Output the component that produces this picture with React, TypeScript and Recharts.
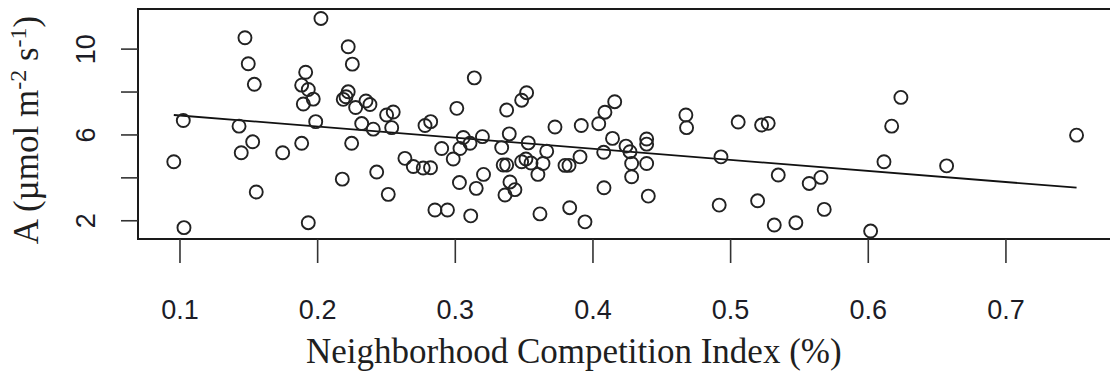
import React from 'react';
import { ScatterChart, Scatter, XAxis, YAxis, ReferenceArea, ReferenceLine, Label } from 'recharts';

// Neighborhood competition index (fraction) for each sampled tree
const ncIndex = [
  0.0955, 0.1024, 0.1029, 0.1429, 0.1445, 0.1472, 0.1496, 0.1528, 0.154, 0.1554,
  0.1746, 0.1884, 0.1913, 0.1884, 0.1932, 0.1968, 0.1896, 0.1932, 0.1986, 0.2024,
  0.2179, 0.2222, 0.2252, 0.2222, 0.2206, 0.2186, 0.2276, 0.2247, 0.232, 0.2351,
  0.238, 0.2404, 0.2429, 0.2501, 0.2549, 0.2538, 0.2513, 0.2634, 0.2695, 0.2767,
  0.282, 0.278, 0.2821, 0.2852, 0.2943, 0.2901, 0.2985, 0.3011, 0.303, 0.3034,
  0.3058, 0.3107, 0.3112, 0.3138, 0.3152, 0.3197, 0.3205, 0.3337, 0.3348, 0.3373,
  0.3361, 0.3373, 0.3392, 0.3397, 0.3433, 0.3482, 0.3518, 0.353, 0.3482, 0.3513,
  0.355, 0.36, 0.3615, 0.3637, 0.3664, 0.3724, 0.3797, 0.3826, 0.3831, 0.3906,
  0.3915, 0.3942, 0.4042, 0.4078, 0.408, 0.4087, 0.4142, 0.4158, 0.424, 0.4269,
  0.4281, 0.4281, 0.439, 0.439, 0.439, 0.4402, 0.4675, 0.468, 0.493, 0.4917,
  0.5055, 0.5196, 0.5225, 0.5273, 0.5317, 0.5346, 0.5474, 0.5571, 0.5656, 0.568,
  0.6017, 0.6114, 0.617, 0.6237, 0.6569, 0.7513,
];

// Net assimilation rate A (µmol m-2 s-1), same order as ncIndex
const assimilation = [
  4.75, 6.67, 1.68, 6.41, 5.17, 10.53, 9.32, 5.68, 8.36, 3.34,
  5.17, 5.61, 8.92, 8.32, 8.12, 7.67, 7.44, 1.91, 6.62, 11.43,
  3.94, 10.11, 9.3, 8.01, 7.78, 7.66, 7.28, 5.61, 6.53, 7.58,
  7.42, 6.27, 4.27, 6.93, 7.07, 6.34, 3.23, 4.91, 4.53, 4.46,
  4.47, 6.44, 6.62, 2.5, 2.5, 5.37, 4.88, 7.24, 3.78, 5.37,
  5.88, 5.61, 2.23, 8.66, 3.51, 5.92, 4.16, 5.41, 4.6, 4.6,
  3.2, 7.16, 6.05, 3.81, 3.45, 7.62, 7.97, 5.63, 4.75, 4.88,
  4.69, 4.16, 2.32, 4.67, 5.24, 6.37, 4.58, 4.58, 2.61, 4.98,
  6.44, 1.95, 6.52, 5.19, 3.54, 7.06, 5.84, 7.55, 5.48, 5.22,
  4.67, 4.05, 5.81, 5.57, 4.67, 3.15, 6.93, 6.34, 4.98, 2.73,
  6.6, 2.93, 6.46, 6.54, 1.8, 4.13, 1.91, 3.74, 4.02, 2.53,
  1.52, 4.75, 6.41, 7.75, 4.56, 5.99,
];

// Fitted linear trend, drawn across the observed range
const fitX = [0.0955, 0.7513];
const fitY = [6.93, 3.54];

const xTicks = [0.1, 0.2, 0.3, 0.4, 0.5, 0.6, 0.7];
const yTicks = [2, 4, 6, 8, 10];
const yTickLabels = ['2', '', '6', '', '10'];

const xDomain = [0.0695, 0.7785];
const yDomain = [1.15, 11.87];

const points = ncIndex.map((x, i) => ({ x, y: assimilation[i] }));

const SANS = "'Liberation Sans', Arial, sans-serif";
const SERIF = "'Liberation Serif', 'Times New Roman', serif";
const INK = '#1f1f1f';

const XTick = (props: any) => {
  const { x, y, payload } = props;
  return (
    <text x={x} y={y} dy={54} textAnchor="middle" fontFamily={SANS} fontSize={27} fill="#1c1c26">
      {String(payload.value)}
    </text>
  );
};

const YTick = (props: any) => {
  const { x, y, payload } = props;
  const idx = yTicks.indexOf(payload.value);
  const label = idx >= 0 ? yTickLabels[idx] : '';
  if (!label) return null;
  const bx = x - 24;
  return (
    <text
      x={bx}
      y={y}
      textAnchor="middle"
      transform={`rotate(-90, ${bx}, ${y})`}
      fontFamily={SANS}
      fontSize={27}
      fill="#1c1c26"
    >
      {label}
    </text>
  );
};

const OpenCircle = (props: any) => (
  <circle cx={props.cx} cy={props.cy} r={6.5} fill="none" stroke="#222" strokeWidth={1.9} />
);

const XTitle = (props: any) => {
  const vb = props.viewBox || { x: 138, y: 239 };
  return (
    <text x={vb.x + 168} y={vb.y + 124} fontFamily={SERIF} fontSize={35} fill={INK}>
      Neighborhood Competition Index (%)
    </text>
  );
};

const YTitle = (props: any) => {
  const vb = props.viewBox || { x: 0, y: 9, height: 230 };
  const cx = 38;
  const cy = vb.y + vb.height / 2 + 6;
  return (
    <text
      x={cx}
      y={cy}
      textAnchor="middle"
      transform={`rotate(-90, ${cx}, ${cy})`}
      fontFamily={SERIF}
      fontSize={35}
      fill={INK}
    >
      A (µmol m
      <tspan fontSize={24} dy={-12}>-2</tspan>
      <tspan dy={12}> s</tspan>
      <tspan fontSize={24} dy={-12}>-1</tspan>
      <tspan dy={12}>)</tspan>
    </text>
  );
};

export default function App() {
  return (
    <div
      style={{
        position: 'absolute',
        left: 0,
        top: 0,
        width: 1110,
        height: 377,
        overflow: 'hidden',
        background: '#fff',
      }}
    >
      <ScatterChart width={1120} height={377} margin={{ top: 9, right: 6, bottom: 0, left: 0 }}>
        <XAxis
          type="number"
          dataKey="x"
          domain={xDomain}
          ticks={xTicks}
          interval={0}
          allowDataOverflow
          height={138}
          tickSize={24}
          axisLine={false}
          tickLine={{ stroke: '#333', strokeWidth: 1.6 }}
          tick={<XTick />}
        >
          <Label content={<XTitle />} />
        </XAxis>
        <YAxis
          type="number"
          dataKey="y"
          domain={yDomain}
          ticks={yTicks}
          interval={0}
          allowDataOverflow
          width={138}
          tickSize={17}
          axisLine={false}
          tickLine={{ stroke: '#333', strokeWidth: 1.6 }}
          tick={<YTick />}
        >
          <Label content={<YTitle />} />
        </YAxis>
        <ReferenceArea
          x1={xDomain[0]}
          x2={xDomain[1]}
          y1={yDomain[0]}
          y2={yDomain[1]}
          fill="none"
          stroke="#1a1a1a"
          strokeWidth={2}
          ifOverflow="visible"
        />
        <Scatter data={points} shape={<OpenCircle />} isAnimationActive={false} />
        <ReferenceLine
          segment={[
            { x: fitX[0], y: fitY[0] },
            { x: fitX[1], y: fitY[1] },
          ]}
          stroke="#111"
          strokeWidth={1.8}
        />
      </ScatterChart>
    </div>
  );
}
